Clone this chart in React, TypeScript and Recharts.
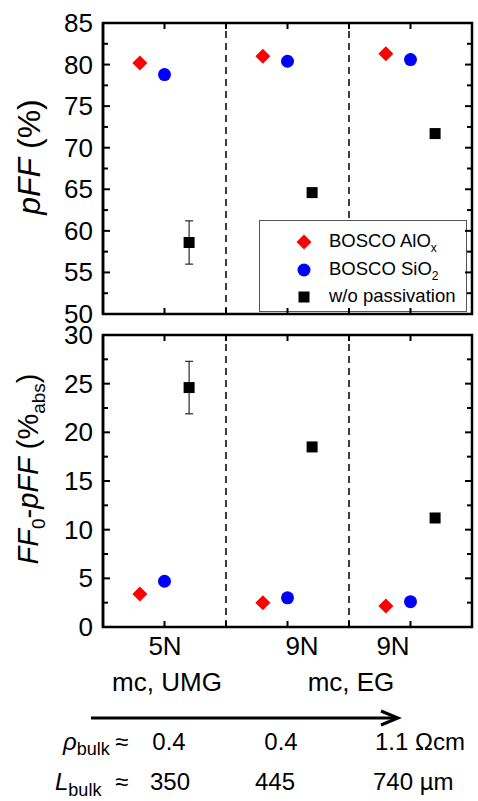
import { ScatterChart, Scatter, XAxis, YAxis, ReferenceLine, ErrorBar, Legend, Label } from "recharts";

const FONT = "'Liberation Sans', Arial, sans-serif";

// three sample groups, the three series sit side by side in each group
const groups = [1, 2, 3];
const shifts = [-0.2, 0, 0.2];
const separators = [1.5, 2.5];
const xDomain: [number, number] = [0.5, 3.5];

const pffAlOx = [80.2, 81.0, 81.3];
const pffSiO2 = [78.8, 80.4, 80.6];
const pffNone = [58.6, 64.6, 71.7];
const pffNoneErr = [2.6, 0, 0];

const lossAlOx = [3.4, 2.5, 2.15];
const lossSiO2 = [4.7, 3.0, 2.6];
const lossNone = [24.6, 18.5, 11.2];
const lossNoneErr = [2.7, 0, 0];

const topDomain: [number, number] = [50, 85];
const botDomain: [number, number] = [0, 30];
const topTicks = [50, 52.5, 55, 57.5, 60, 62.5, 65, 67.5, 70, 72.5, 75, 77.5, 80, 82.5, 85];
const bottomTicks = [0, 2.5, 5, 7.5, 10, 12.5, 15, 17.5, 20, 22.5, 25, 27.5, 30];
const xTicks = [1, 1.5, 2, 2.5, 3];

const legendMain = ["BOSCO AlO", "BOSCO SiO", "w/o passivation"];
const legendSub = ["x", "2", ""];

// plot boxes of the two panels (page pixels), from the chart margins below
const PLOT_L = 103;
const PLOT_R = 472;
const TOP_PANEL = { t: 23, b: 314 };
const BOT_PANEL = { t: 335, b: 627 };

const build = (vals: number[], s: number, errs?: number[]) =>
  vals.map((v, i) => ({ x: groups[i] + shifts[s], y: v, err: errs ? errs[i] : 0 }));

const Diamond = ({ cx, cy }: any) => (
  <polygon points={`${cx},${cy - 7.5} ${cx + 7.5},${cy} ${cx},${cy + 7.5} ${cx - 7.5},${cy}`} fill="#ff0000" />
);
const Dot = ({ cx, cy }: any) => <circle cx={cx} cy={cy} r={6.5} fill="#0000ff" />;
const Box = ({ cx, cy }: any) => <rect x={cx - 5.5} y={cy - 5.5} width={11} height={11} fill="#000" />;

// recharts puts the tick text 8px (tickSize 6 + tickMargin 2) outside the axis line
const GAP = 8;
const isMajor = (v: number) => v % 5 === 0;
const leftTick = (p: any) => {
  const ax = p.x + GAP;
  return (
    <g>
      <path d={`M${ax},${p.y}H${ax + (isMajor(p.payload.value) ? 7 : 5)}`} stroke="#000" strokeWidth={2} />
      {isMajor(p.payload.value) && (
        <text x={ax - 10} y={p.y + 9} textAnchor="end" fontSize={26} fontFamily={FONT} fill="#000">
          {p.payload.value}
        </text>
      )}
    </g>
  );
};

// box frame with inward ticks on the right, top and bottom edges
const Frame = ({ panel, domain, ticks }: { panel: { t: number; b: number }; domain: [number, number]; ticks: number[] }) => {
  const px = (v: number) => PLOT_L + ((v - xDomain[0]) / (xDomain[1] - xDomain[0])) * (PLOT_R - PLOT_L);
  const py = (v: number) => panel.t + ((domain[1] - v) / (domain[1] - domain[0])) * (panel.b - panel.t);
  return (
    <g stroke="#000" fill="none">
      <rect x={PLOT_L} y={panel.t} width={PLOT_R - PLOT_L} height={panel.b - panel.t} strokeWidth={2.5} />
      {ticks.map((v) => (
        <path key={`r${v}`} d={`M${PLOT_R},${py(v)}H${PLOT_R - (isMajor(v) ? 7 : 5)}`} strokeWidth={2} />
      ))}
      {xTicks.map((v) => (
        <path key={`x${v}`} d={`M${px(v)},${panel.t}V${panel.t + 6}M${px(v)},${panel.b}V${panel.b - 6}`} strokeWidth={2} />
      ))}
    </g>
  );
};

const renderLegend = () => (
  <div
    style={{
      position: "relative",
      width: 208,
      height: 92,
      boxSizing: "border-box",
      border: "1.5px solid #555",
      background: "#fff",
      fontFamily: FONT,
      fontSize: 18.5,
      color: "#000",
    }}
  >
    {legendMain.map((t, i) => (
      <div key={t} style={{ position: "absolute", left: 0, top: 10 + i * 27.5, height: 22, width: 206 }}>
        <svg width={20} height={20} style={{ position: "absolute", left: 34, top: 1 }}>
          {i === 0 && <Diamond cx={10} cy={10} />}
          {i === 1 && <Dot cx={10} cy={10} />}
          {i === 2 && <Box cx={10} cy={10} />}
        </svg>
        <span style={{ position: "absolute", left: 69, top: 0, whiteSpace: "nowrap", lineHeight: "20px" }}>
          {t}
          {legendSub[i] && <sub style={{ fontSize: 12 }}>{legendSub[i]}</sub>}
        </span>
      </div>
    ))}
  </div>
);

const yTitle = (node: any) => () => node;

export default function App() {
  return (
    <div style={{ position: "absolute", left: 0, top: 0, width: 478, height: 801, background: "#fff" }}>
      <div style={{ position: "absolute", left: 0, top: 0 }}>
        <ScatterChart width={478} height={330} margin={{ top: 23, right: 6, bottom: 16, left: 0 }}>
          <XAxis xAxisId="b" type="number" dataKey="x" domain={xDomain} height={0} axisLine={false} tick={false} tickLine={false} />
          <YAxis yAxisId="l" type="number" dataKey="y" domain={topDomain} ticks={topTicks} width={103}
            axisLine={{ stroke: "#000", strokeWidth: 2.5 }} tickLine={false} tick={leftTick} interval={0}>
            <Label
              content={yTitle(
                <text transform="rotate(-90)" x={-157} y={40} textAnchor="middle" fontSize={32} fontFamily={FONT} fill="#000">
                  <tspan fontStyle="italic">pFF</tspan> (%)
                </text>
              )}
            />
          </YAxis>
          {separators.map((s) => (
            <ReferenceLine key={s} x={s} xAxisId="b" yAxisId="l" stroke="#000" strokeWidth={1.5} strokeDasharray="7 5" />
          ))}
          <Scatter name="BOSCO AlOx" data={build(pffAlOx, 0)} xAxisId="b" yAxisId="l" shape={Diamond} isAnimationActive={false} />
          <Scatter name="BOSCO SiO2" data={build(pffSiO2, 1)} xAxisId="b" yAxisId="l" shape={Dot} isAnimationActive={false} />
          <Scatter name="w/o passivation" data={build(pffNone, 2, pffNoneErr)} xAxisId="b" yAxisId="l" shape={Box} isAnimationActive={false}>
            <ErrorBar dataKey="err" direction="y" width={4} stroke="#000" strokeWidth={1} />
          </Scatter>
          <Legend layout="vertical" align="center" verticalAlign="middle" content={renderLegend}
            wrapperStyle={{ left: 259, top: 220, width: 208, height: 92 }} />
        </ScatterChart>
      </div>

      <div style={{ position: "absolute", left: 0, top: 318 }}>
        <ScatterChart width={478} height={330} margin={{ top: 17, right: 6, bottom: 21, left: 0 }}>
          <XAxis xAxisId="b" type="number" dataKey="x" domain={xDomain} height={0} axisLine={false} tick={false} tickLine={false} />
          <YAxis yAxisId="l" type="number" dataKey="y" domain={botDomain} ticks={bottomTicks} width={103}
            axisLine={{ stroke: "#000", strokeWidth: 2.5 }} tickLine={false} tick={leftTick} interval={0}>
            <Label
              content={yTitle(
                <text transform="rotate(-90)" x={-151} y={38} textAnchor="middle" fontSize={29} fontFamily={FONT} fill="#000">
                  <tspan fontStyle="italic">FF</tspan>
                  <tspan dy={7} fontSize={19}>0</tspan>
                  <tspan dy={-7}>-</tspan>
                  <tspan fontStyle="italic">pFF</tspan> (%
                  <tspan dy={7} fontSize={19}>abs</tspan>
                  <tspan dy={-7}>)</tspan>
                </text>
              )}
            />
          </YAxis>
          {separators.map((s) => (
            <ReferenceLine key={s} x={s} xAxisId="b" yAxisId="l" stroke="#000" strokeWidth={1.5} strokeDasharray="7 5" />
          ))}
          <Scatter name="BOSCO AlOx" data={build(lossAlOx, 0)} xAxisId="b" yAxisId="l" shape={Diamond} isAnimationActive={false} />
          <Scatter name="BOSCO SiO2" data={build(lossSiO2, 1)} xAxisId="b" yAxisId="l" shape={Dot} isAnimationActive={false} />
          <Scatter name="w/o passivation" data={build(lossNone, 2, lossNoneErr)} xAxisId="b" yAxisId="l" shape={Box} isAnimationActive={false}>
            <ErrorBar dataKey="err" direction="y" width={4} stroke="#000" strokeWidth={1} />
          </Scatter>
        </ScatterChart>
      </div>

      <svg width={478} height={801} style={{ position: "absolute", left: 0, top: 0, pointerEvents: "none" }}
        fontFamily={FONT} fill="#000">
        <Frame panel={TOP_PANEL} domain={topDomain} ticks={topTicks} />
        <Frame panel={BOT_PANEL} domain={botDomain} ticks={bottomTicks} />

        <text x={165} y={655} textAnchor="middle" fontSize={26}>5N</text>
        <text x={302} y={655} textAnchor="middle" fontSize={26}>9N</text>
        <text x={393} y={655} textAnchor="middle" fontSize={26}>9N</text>
        <text x={167} y={691} textAnchor="middle" fontSize={26}>mc, UMG</text>
        <text x={351} y={691} textAnchor="middle" fontSize={26}>mc, EG</text>

        <line x1={91} y1={718} x2={397} y2={718} stroke="#000" strokeWidth={3} />
        <polyline points="381,711 398,718 381,725" fill="none" stroke="#000" strokeWidth={3} />

        <text x={63} y={750} fontSize={24}>
          <tspan fontStyle="italic">ρ</tspan>
          <tspan dy={5} fontSize={18}>bulk</tspan>
        </text>
        <text x={115} y={750} fontSize={24}>≈</text>
        <text x={169} y={750} textAnchor="middle" fontSize={24}>0.4</text>
        <text x={281} y={750} textAnchor="middle" fontSize={24}>0.4</text>
        <text x={375} y={750} fontSize={24}>1.1 Ωcm</text>

        <text x={55} y={790} fontSize={24}>
          <tspan fontStyle="italic">L</tspan>
          <tspan dy={6} fontSize={18}>bulk</tspan>
        </text>
        <text x={115} y={790} fontSize={24}>≈</text>
        <text x={170} y={790} textAnchor="middle" fontSize={24}>350</text>
        <text x={275} y={790} textAnchor="middle" fontSize={24}>445</text>
        <text x={373} y={790} fontSize={24}>740 µm</text>
      </svg>
    </div>
  );
}
